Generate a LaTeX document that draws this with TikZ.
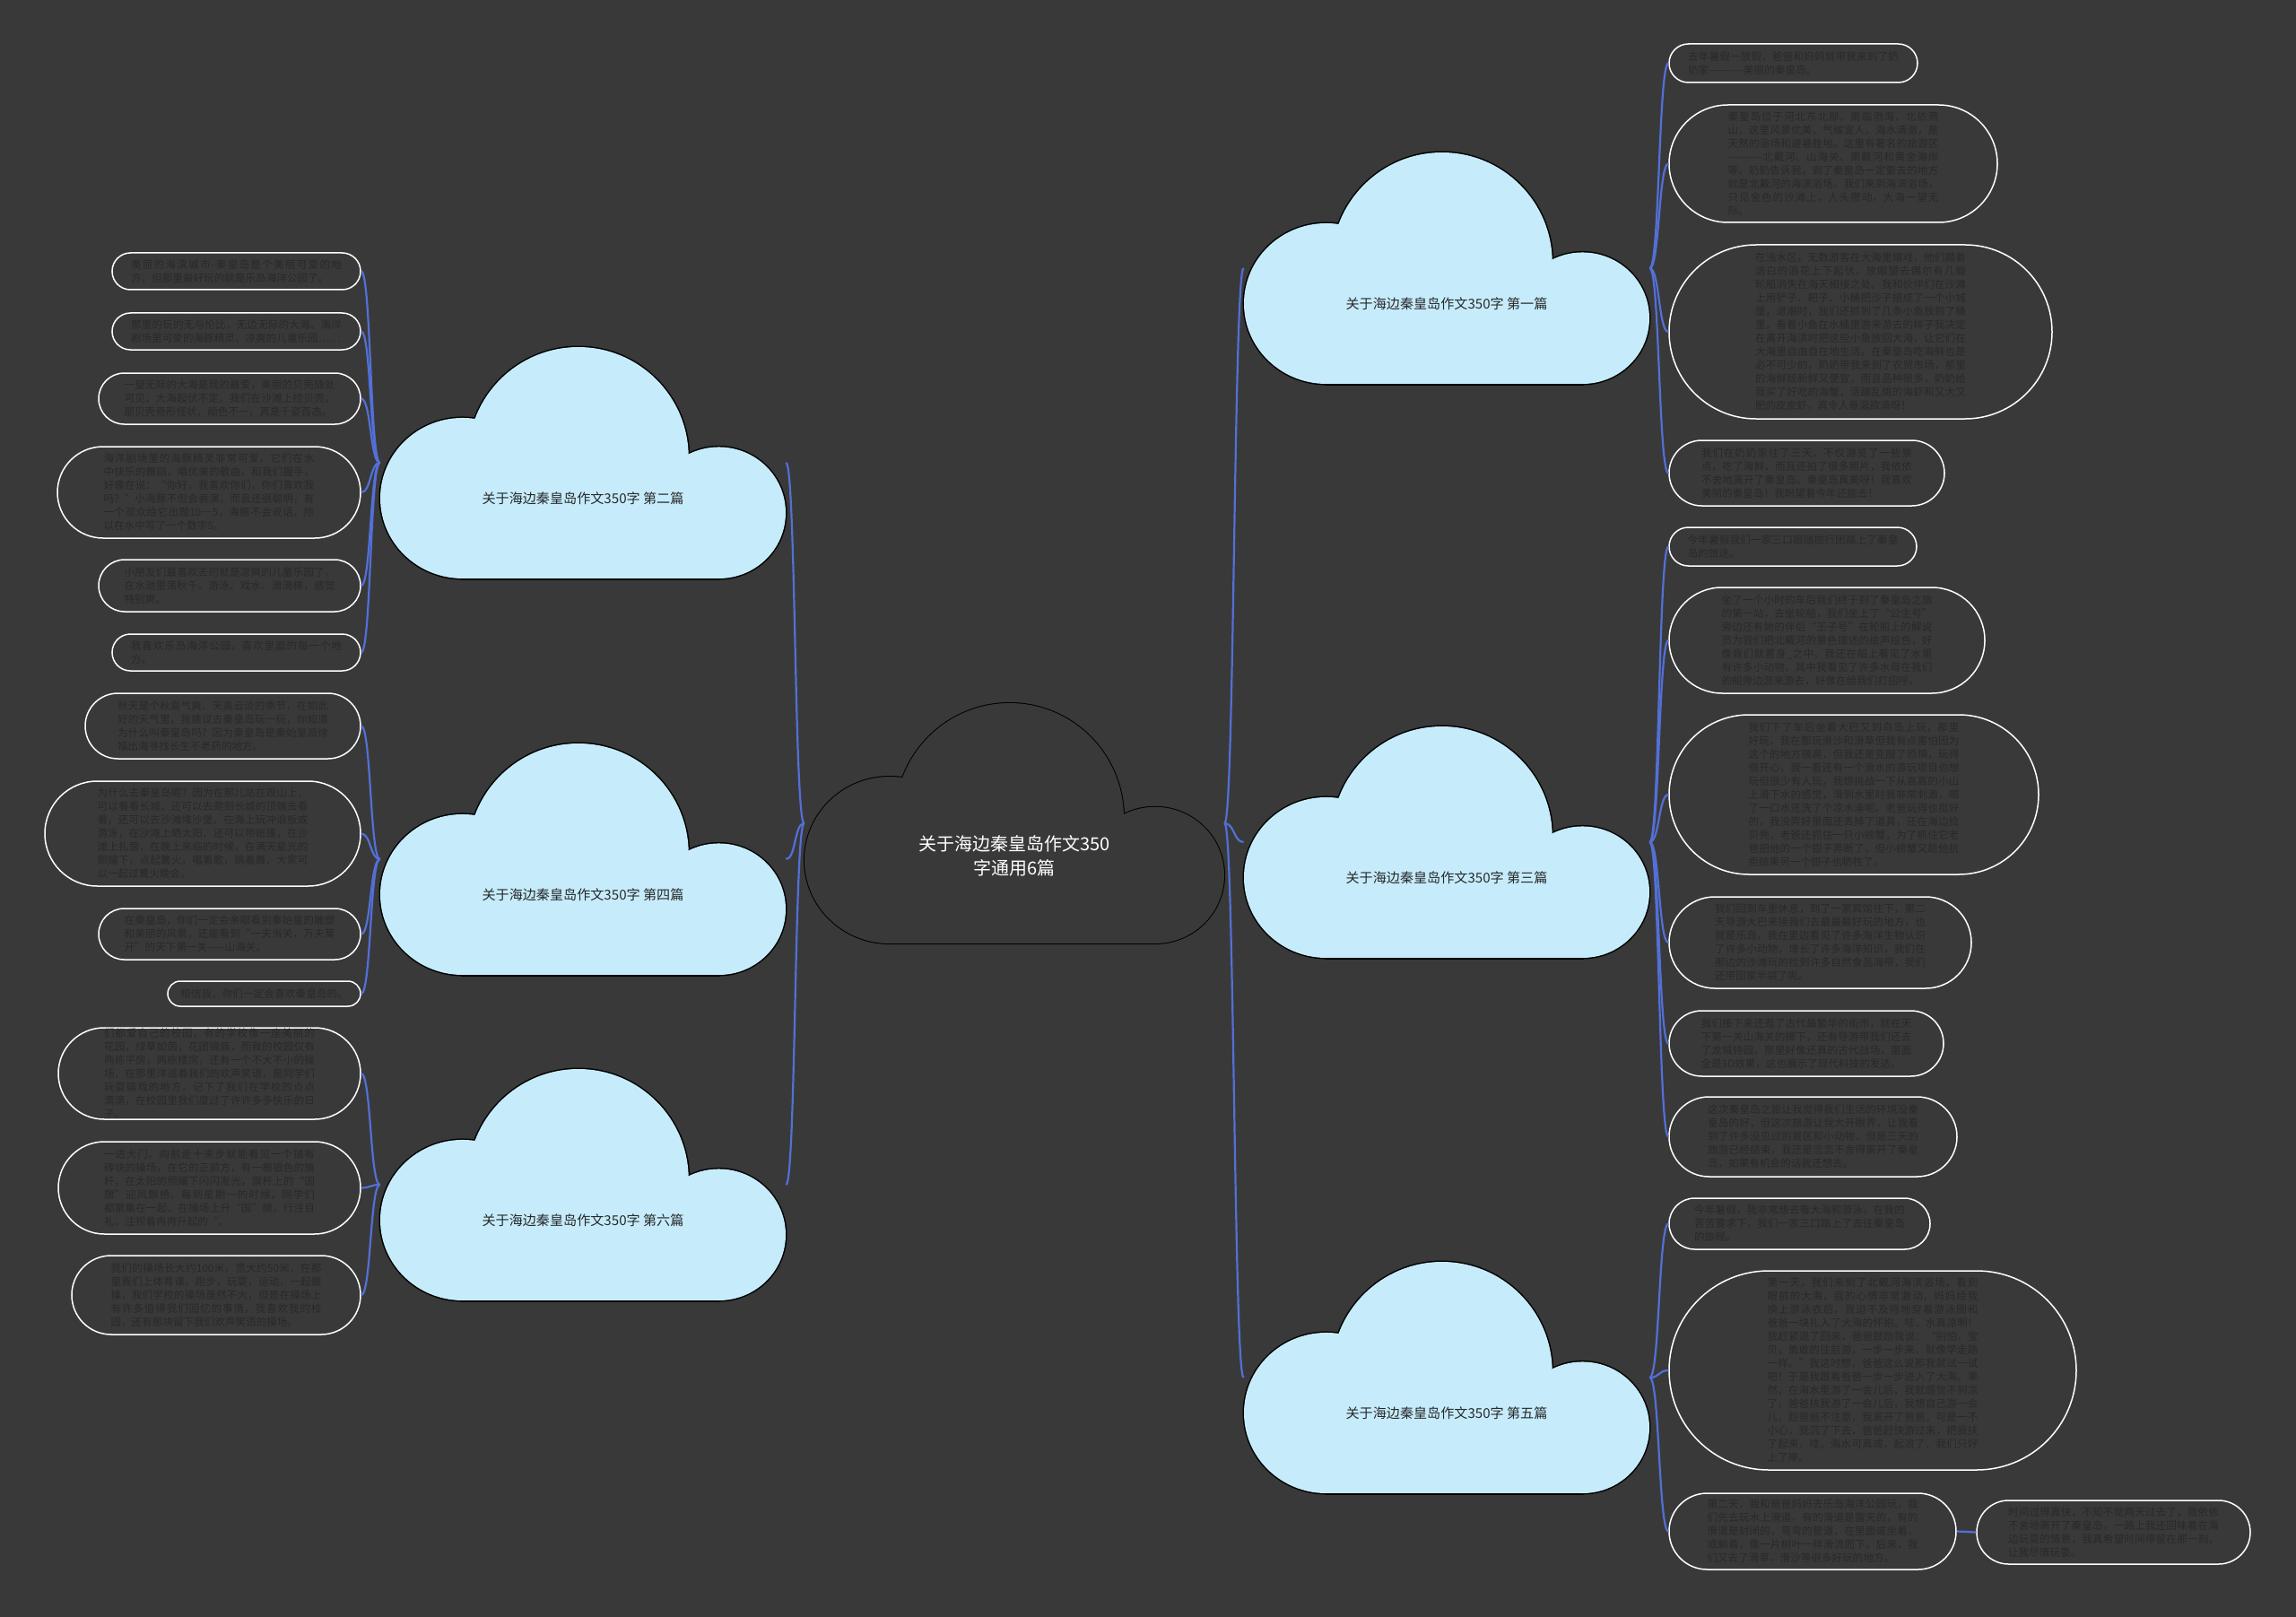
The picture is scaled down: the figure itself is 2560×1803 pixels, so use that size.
\documentclass[tikz,border=0pt]{standalone}
\usepackage{fontspec}
\setmainfont{Noto Sans CJK SC}
\XeTeXlinebreaklocale "zh"
\XeTeXlinebreakskip=0pt plus 0.6pt
\definecolor{bg}{RGB}{58,57,58}
\definecolor{cloudfill}{RGB}{198,236,252}
\definecolor{connblue}{RGB}{82,112,214}
\definecolor{leaftext}{RGB}{42,41,42}
\definecolor{cloudtext}{RGB}{40,40,40}
\newcommand\leaffont{\fontsize{5.8pt}{7.5pt}\selectfont}
\newcommand\cloudfont{\fontsize{7.55pt}{9pt}\selectfont}
\newcommand\centerfont{\fontsize{10pt}{13.5pt}\selectfont}
\tikzset{
  leaf/.style={draw=white, line width=0.75pt, fill=bg, text=leaftext, font=\leaffont,
    align=justify, inner sep=0pt},
  cloudbox/.style={inner sep=0pt, draw=none},
  cloudlabel/.style={text=cloudtext, font=\cloudfont, inner sep=0pt},
  centerlabel/.style={text=white, font=\centerfont, align=center, inner sep=0pt},
  conn/.style={draw=connblue, line width=1.1pt},
}
\newcommand\cloudpieces[5]{%
  \path[#5] ({#1+0.203*#3},{#2+0.653*#4}) ellipse [x radius={0.5pt*0.203*#3}, y radius={0.5pt*0.347*#4}];
  \path[#5] ({#1+0.4885*#3},{#2+0.476*#4}) ellipse [x radius={0.5pt*0.272*#3}, y radius={0.5pt*0.476*#4}];
  \path[#5] ({#1+0.835*#3},{#2+0.716*#4}) ellipse [x radius={0.5pt*0.165*#3}, y radius={0.5pt*0.284*#4}];
  \path[#5] ({#1+0.203*#3},{#2+0.653*#4}) rectangle ({#1+0.835*#3},{#2+#4});}
\newcommand\cloudshape[6]{%
  \cloudpieces{#1}{#2}{#3}{#4}{draw=black, line width=#6}%
  \cloudpieces{#1}{#2}{#3}{#4}{fill=#5}}
\begin{document}
\begin{tikzpicture}[x=0.5pt, y=-0.5pt]
\fill[bg] (0,0) rectangle (2560,1803);
\useasboundingbox (0,0) rectangle (2560,1803);

% cloud boxes
\node[cloudbox, minimum width=234pt, minimum height=134pt] (c0) at (1131,918) {};
\node[cloudbox, minimum width=226pt, minimum height=129pt] (c1) at (1613,299) {};
\node[cloudbox, minimum width=226pt, minimum height=129pt] (c3) at (1613,939) {};
\node[cloudbox, minimum width=226pt, minimum height=129pt] (c5) at (1613,1536) {};
\node[cloudbox, minimum width=226pt, minimum height=129pt] (c2) at (650,516) {};
\node[cloudbox, minimum width=226pt, minimum height=129pt] (c4) at (650,958) {};
\node[cloudbox, minimum width=226pt, minimum height=129pt] (c6) at (650,1321) {};

% right leaves, group 1
\node[leaf, text width=117.5pt, minimum width=138.5pt, minimum height=21.5pt, rounded corners=10.75pt] (r1a) at (1999.5,70.5) {去年暑假一放假，爸爸和妈妈就带我来到了奶奶家————美丽的秦皇岛。};
\node[leaf, text width=117.5pt, minimum width=183pt, minimum height=65.5pt, rounded corners=32.75pt] (r1b) at (2044,182.5) {秦皇岛位于河北东北部，南临渤海，北依燕山，这里风景优美，气候宜人，海水清澈，是天然的浴场和避暑胜地。这里有著名的旅游区————北戴河、山海关、南戴河和黄金海岸等。奶奶告诉我，到了秦皇岛一定要去的地方就是北戴河的海滨浴场。我们来到海滨浴场，只见金色的沙滩上，人头攒动，大海一望无际。};
\node[leaf, text width=117.5pt, minimum width=213.5pt, minimum height=97pt, rounded corners=48.5pt] (r1c) at (2074.5,370) {在浅水区，无数游客在大海里嬉戏，他们踏着洁白的浪花上下起伏，放眼望去偶尔有几艘轮船消失在海天相接之处。我和伙伴们在沙滩上用铲子、耙子、小桶把沙子搭成了一个小城堡，退潮时，我们还抓到了几条小鱼放到了桶里，看着小鱼在水桶里游来游去的样子我决定在离开海滨时把这些小鱼放回大海，让它们在大海里自由自在地生活。在秦皇岛吃海鲜也是必不可少的，奶奶带我来到了农贸市场，那里的海鲜既新鲜又便宜，而且品种很多，奶奶给我买了好吃的海蟹，活蹦乱跳的海虾和又大又肥的皮皮虾，真令人垂涎欲滴呀！};
\node[leaf, text width=117.5pt, minimum width=153.5pt, minimum height=36.5pt, rounded corners=18.25pt] (r1d) at (2014.5,527.5) {我们在奶奶家住了三天，不仅游览了一些景点，吃了海鲜，而且还拍了很多照片，我依依不舍地离开了秦皇岛。秦皇岛真美呀！我喜欢美丽的秦皇岛！我盼望着今年还能去！};

% right leaves, group 3
\node[leaf, text width=117.5pt, minimum width=138pt, minimum height=21.5pt, rounded corners=10.75pt] (r3a) at (1999,609.5) {今年暑假我们一家三口跟随旅行团踏上了秦皇岛的旅途。};
\node[leaf, text width=117.5pt, minimum width=176pt, minimum height=59pt, rounded corners=29.5pt] (r3b) at (2037,714) {坐了一个小时的车后我们终于到了秦皇岛之旅的第一站，去坐轮船，我们坐上了“公主号”旁边还有她的伴侣“王子号”在轮船上的解说员为我们把北戴河的景色描述的绘声绘色，好像我们就置身\_之中，我还在船上看见了水里有许多小动物，其中我看见了许多水母在我们的船旁边游来游去，好像在给我们打招呼。};
\node[leaf, text width=117.5pt, minimum width=206pt, minimum height=89pt, rounded corners=44.5pt] (r3c) at (2067,886) {我们下了车后坐着大巴又到鸟岛上玩，那里好玩，我在那玩滑沙和滑草但我有点害怕因为这个的地方很高，但我还是克服了恐惧，玩得很开心，我一看还有一个滑水的游玩项目也想玩但很少有人玩，我想挑战一下从高高的小山上滑下水的感觉，滑到水里时我非常刺激，喝了一口水还洗了个凉水澡呢。老爸玩得也挺好的，我没弄好里面还丢掉了道具，还在海边捡贝壳，老爸还抓住一只小螃蟹，为了抓住它老爸把他的一个钳子弄断了，但小螃蟹又趁他抗拒结果另一个钳子也牺牲了。};
\node[leaf, text width=117.5pt, minimum width=168.5pt, minimum height=51pt, rounded corners=25.5pt] (r3d) at (2029.5,1051) {我们回到车里休息，到了一家宾馆住下，第二天导游大巴来接我们去最最最好玩的地方，也就是乐岛，我在里边看见了许多海洋生物认识了许多小动物，增长了许多海洋知识，我们在那边的沙滩玩的捡到许多自然食品海带，我们还带回家半袋了呢。};
\node[leaf, text width=117.5pt, minimum width=153pt, minimum height=36.5pt, rounded corners=18.25pt] (r3e) at (2014,1163.5) {我们接下来还逛了古代最繁华的街市，就在天下第一关山海关的脚下，还有导游带我们还去了龙城特园，那里好像还真的古代战场，里面全是3D效果，这也展示了现代科技的发达。};
\node[leaf, text width=117.5pt, minimum width=160.5pt, minimum height=44.5pt, rounded corners=22.25pt] (r3f) at (2021.5,1267.5) {这次秦皇岛之旅让我觉得我们生活的环境没秦皇岛的好，但这次旅游让我大开眼界，让我看到了许多没见过的景区和小动物，但是三天的旅游已经结束，我还是恋恋不舍得离开了秦皇岛，如果有机会的话我还想去。};

% right leaves, group 5
\node[leaf, text width=117.5pt, minimum width=145.5pt, minimum height=28.5pt, rounded corners=14.25pt] (r5a) at (2006.5,1364.5) {今年暑假，我非常想去看大海和游泳，在我的苦苦要求下，我们一家三口踏上了去往秦皇岛的旅程。};
\node[leaf, text width=117.5pt, minimum width=227pt, minimum height=111pt, rounded corners=55.5pt] (r5b) at (2088,1528) {第一天，我们来到了北戴河海滨浴场，看到眼前的大海，我的心情非常激动，妈妈给我换上游泳衣后，我迫不及待地穿着游泳圈和爸爸一块扎入了大海的怀抱。哇，水真凉啊！我赶紧退了回来，爸爸鼓励我说：“别怕，宝贝，勇敢的往前游，一步一步来，就像学走路一样。”我这时想，爸爸这么说那我就试一试吧！于是我跟着爸爸一步一步进入了大海。果然，在海水里游了一会儿后，我就感觉不到凉了，爸爸扶我游了一会儿后，我想自己游一会儿，趁爸爸不注意，我离开了爸爸，可是一不小心，我沉了下去，爸爸赶快游过来，把我扶了起来，哇，海水可真咸，起浪了，我们只好上了岸。};
\node[leaf, text width=117.5pt, minimum width=160pt, minimum height=42.5pt, rounded corners=21.25pt] (r5c) at (2021,1707.5) {第二天，我和爸爸妈妈去乐岛海洋公园玩，我们先去玩水上滑道，有的滑道是露天的，有的滑道是封闭的，弯弯的管道，在里面或坐着，或躺着，像一片树叶一样滑流而下。后来，我们又去了滑草，滑沙等很多好玩的地方。};
\node[leaf, text width=117.5pt, minimum width=152.5pt, minimum height=35.5pt, rounded corners=17.75pt] (r5d) at (2356.5,1708.5) {时间过得真快，不知不觉两天过去了，我依依不舍地离开了秦皇岛，一路上我还回味着在海边玩耍的情景，我真希望时间停留在那一刻，让我尽情玩耍。};

% left leaves, group 2
\node[leaf, text width=117.5pt, minimum width=138.5pt, minimum height=20.5pt, rounded corners=10.25pt] (l2a) at (263.5,302.5) {美丽的海滨城市--秦皇岛是个美丽可爱的地方，但那里最好玩的就是乐岛海洋公园了。};
\node[leaf, text width=117.5pt, minimum width=138.5pt, minimum height=20.5pt, rounded corners=10.25pt] (l2b) at (263.5,369.5) {那里的玩的无与伦比，无边无际的大海、海洋剧场里可爱的海豚精灵、凉爽的儿童乐园……};
\node[leaf, text width=117.5pt, minimum width=146pt, minimum height=28.5pt, rounded corners=14.25pt] (l2c) at (256,444.5) {一望无际的大海是我的最爱，美丽的贝壳随处可见，大海起伏不定，我们在沙滩上捡贝壳，那贝壳奇形怪状，颜色不一，真是千姿百态。};
\node[leaf, text width=117.5pt, minimum width=169pt, minimum height=51pt, rounded corners=25.5pt] (l2d) at (233,549) {海洋剧场里的海豚精灵非常可爱，它们在水中快乐的舞蹈，唱优美的歌曲，和我们握手，好像在说：“你好，我喜欢你们，你们喜欢我吗？”小海豚不但会表演，而且还很聪明，有一个观众给它出题10－5，海豚不会说话，所以在水中写了一个数字5。};
\node[leaf, text width=117.5pt, minimum width=146pt, minimum height=29pt, rounded corners=14.5pt] (l2e) at (256,653) {小朋友们最喜欢去的就是凉爽的儿童乐园了，在水池里荡秋千、游泳、戏水、滑滑梯，感觉特别爽。};
\node[leaf, text width=117.5pt, minimum width=138.5pt, minimum height=20.5pt, rounded corners=10.25pt] (l2f) at (263.5,727.5) {我喜欢乐岛海洋公园，喜欢里面的每一个地方。};

% left leaves, group 4
\node[leaf, text width=117.5pt, minimum width=153.5pt, minimum height=36.5pt, rounded corners=18.25pt] (l4a) at (248.5,809.5) {秋天是个秋高气爽、天高云淡的季节，在如此好的天气里，我建议去秦皇岛玩一玩，你知道为什么叫秦皇岛吗？因为秦皇岛是秦始皇派徐福出海寻找长生不老药的地方。};
\node[leaf, text width=117.5pt, minimum width=176pt, minimum height=58.5pt, rounded corners=29.25pt] (l4b) at (226,929.5) {为什么去秦皇岛呢？因为在那儿站在观山上，可以看看长城，还可以去爬到长城的顶端去看看，还可以去沙滩堆沙堡，在海上玩冲浪板或游泳，在沙滩上晒太阳，还可以带帐篷，在沙滩上扎营，在晚上来临的时候，在满天星光的照耀下，点起篝火，唱着歌，跳着舞，大家可以一起过篝火晚会。};
\node[leaf, text width=117.5pt, minimum width=146pt, minimum height=28.5pt, rounded corners=14.25pt] (l4c) at (256,1041.5) {在秦皇岛，你们一定会亲眼看到秦始皇的雕塑和美丽的风景，还能看到“一夫当关，万夫莫开”的天下第一关——山海关。};
\node[leaf, text width=95pt, align=center, minimum width=107.5pt, minimum height=14pt, rounded corners=7pt] (l4d) at (294.5,1108) {相信我，你们一定会喜欢秦皇岛的。};

% left leaves, group 6
\node[leaf, text width=117.5pt, minimum width=168.5pt, minimum height=51pt, rounded corners=25.5pt] (l6a) at (233.5,1197) {们都爱自己的校园，有的学校像一座美丽的花园，绿草如茵，花团锦簇，而我的校园仅有两栋平房，两栋楼房，还有一个不大不小的操场，在那里洋溢着我们的欢声笑语，是同学们玩耍嬉戏的地方，记下了我们在学校的点点滴滴，在校园里我们度过了许许多多快乐的日子。};
\node[leaf, text width=117.5pt, minimum width=168.5pt, minimum height=51.5pt, rounded corners=25.75pt] (l6b) at (233.5,1324.5) {一进大门，向前走十来步就能看见一个铺有砖块的操场，在它的正前方，有一根银色的旗杆，在太阳的照耀下闪闪发光，旗杆上的“国旗”迎风飘扬，每到星期一的时候，同学们都聚集在一起，在操场上升“国”旗，行注目礼，注视着冉冉升起的“。};
\node[leaf, text width=117.5pt, minimum width=161pt, minimum height=44pt, rounded corners=22pt] (l6c) at (241,1444) {我们的操场长大约100米，宽大约50米，在那里我们上体育课，跑步，玩耍，运动，一起做操，我们学校的操场虽然不大，但是在操场上有许多值得我们回忆的事情，我喜欢我的校园，还有那块留下我们欢声笑语的操场。};

% connectors
\foreach \c in {c2,c4,c6}
  \draw[conn] (c0.west) .. controls +(-11,0) and +(11,0) .. (\c.east);
\foreach \c in {c1,c3,c5}
  \draw[conn] (c0.east) .. controls +(11,0) and +(-11,0) .. (\c.west);
\foreach \l in {r1a,r1b,r1c,r1d}
  \draw[conn] (c1.east) .. controls +(11,0) and +(-11,0) .. (\l.west);
\foreach \l in {r3a,r3b,r3c,r3d,r3e,r3f}
  \draw[conn] (c3.east) .. controls +(11,0) and +(-11,0) .. (\l.west);
\foreach \l in {r5a,r5b,r5c}
  \draw[conn] (c5.east) .. controls +(11,0) and +(-11,0) .. (\l.west);
\draw[conn] (r5c.east) -- (r5d.west);
\foreach \l in {l2a,l2b,l2c,l2d,l2e,l2f}
  \draw[conn] (c2.west) .. controls +(-11,0) and +(11,0) .. (\l.east);
\foreach \l in {l4a,l4b,l4c,l4d}
  \draw[conn] (c4.west) .. controls +(-11,0) and +(11,0) .. (\l.east);
\foreach \l in {l6a,l6b,l6c}
  \draw[conn] (c6.west) .. controls +(-11,0) and +(11,0) .. (\l.east);

% cloud shapes
\cloudshape{897}{784}{468}{268}{bg}{1pt}
\cloudshape{1387}{170}{452}{258}{cloudfill}{1.5pt}
\cloudshape{1387}{810}{452}{258}{cloudfill}{1.5pt}
\cloudshape{1387}{1407}{452}{258}{cloudfill}{1.5pt}
\cloudshape{424}{387}{452}{258}{cloudfill}{1.5pt}
\cloudshape{424}{829}{452}{258}{cloudfill}{1.5pt}
\cloudshape{424}{1192}{452}{258}{cloudfill}{1.5pt}

% labels
\node[centerlabel] (c0t) at (1131,954) {关于海边秦皇岛作文350\\字通用6篇};
\node[cloudlabel] (c1t) at (1613,339) {关于海边秦皇岛作文350字 第一篇};
\node[cloudlabel] (c3t) at (1613,979) {关于海边秦皇岛作文350字 第三篇};
\node[cloudlabel] (c5t) at (1613,1576) {关于海边秦皇岛作文350字 第五篇};
\node[cloudlabel] (c2t) at (650,556) {关于海边秦皇岛作文350字 第二篇};
\node[cloudlabel] (c4t) at (650,998) {关于海边秦皇岛作文350字 第四篇};
\node[cloudlabel] (c6t) at (650,1361) {关于海边秦皇岛作文350字 第六篇};
\end{tikzpicture}
\end{document}
